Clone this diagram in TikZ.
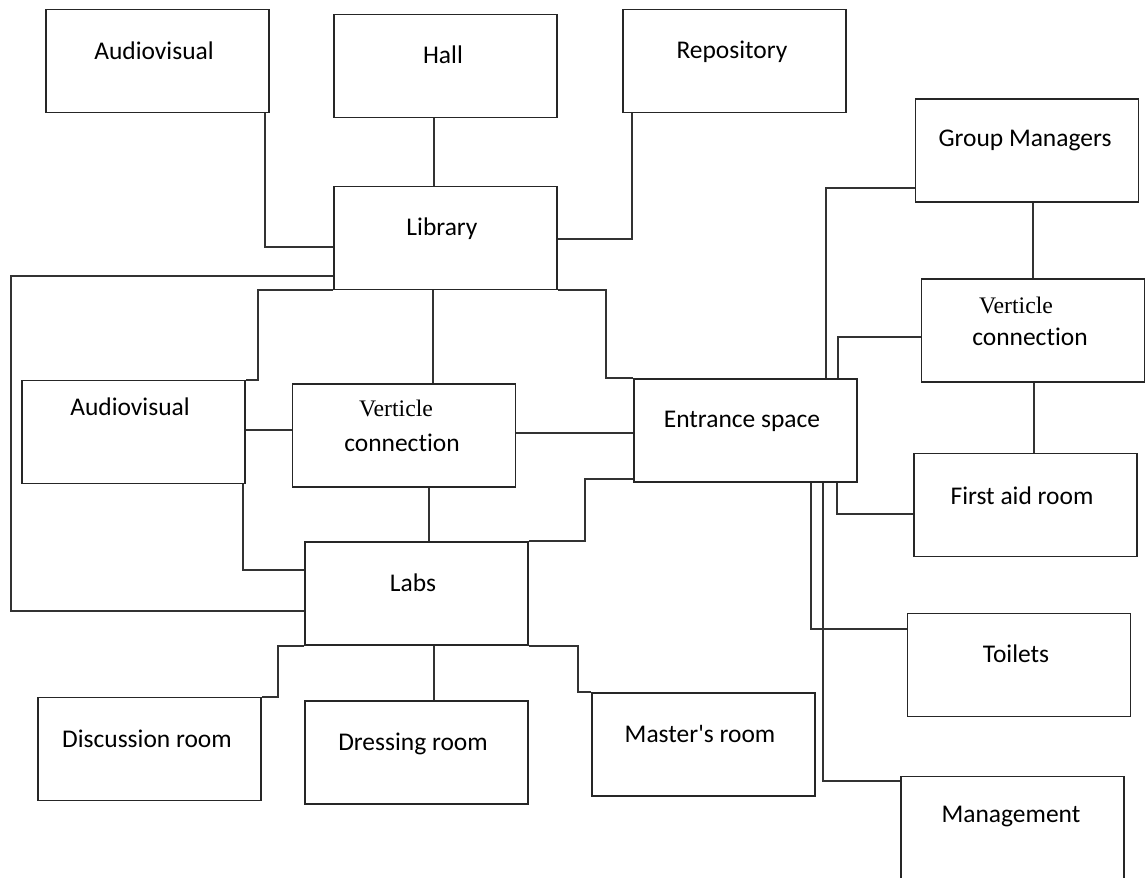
\documentclass[tikz,border=0pt]{standalone}
\usepackage{fontspec}
\setmainfont{Carlito}[Ligatures={NoCommon}]
\newfontfamily\serifword{Liberation Serif}

\begin{document}
\begin{tikzpicture}[x=0.02cm,y=-0.02cm,
  room/.style={draw=black!85,line width=0.9pt,fill=white,minimum width=4.46cm,minimum height=2.06cm,inner sep=0pt},
  roomtext/.style={inner sep=0pt,font=\fontsize{14.5}{17}\selectfont},
  serifword/.style={inner sep=0pt,font=\serifword\fontsize{13.5}{16}\selectfont},
  wire/.style={draw=black!80,line width=0.9pt}]
\useasboundingbox (0,0) rectangle (1147,877);
\clip (0,0) rectangle (1147,877);
% rooms
\node[room] (avtop) at (157.5,61) {};
\node[room] (hall) at (445.5,66) {};
\node[room] (repo) at (734.5,61) {};
\node[room] (gm) at (1027,150.5) {};
\node[room] (lib) at (445.5,238) {};
\node[room] (vcr) at (1033,330.5) {};
\node[room] (avl) at (133.5,432) {};
\node[room] (vcm) at (404,435.5) {};
\node[room] (ent) at (745.5,430.5) {};
\node[room] (aid) at (1025.5,505) {};
\node[room] (labs) at (416.5,593.5) {};
\node[room] (toil) at (1019,665) {};
\node[room] (disc) at (149.5,749) {};
\node[room] (dress) at (416.5,752.5) {};
\node[room] (mast) at (703.5,744.5) {};
\node[room] (mgmt) at (1012.5,828) {};
% names
\node[roomtext] (avtop-t) at (154,51) {Audiovisual};
\node[roomtext] (hall-t) at (443,55) {Hall};
\node[roomtext] (repo-t) at (732,52) {Repository};
\node[roomtext] (gm-t) at (1025,140) {Group Managers};
\node[roomtext] (lib-t) at (442,229) {Library};
\node[serifword] (vcr-t1) at (1016,305) {Verticle};
\node[roomtext] (vcr-t2) at (1030,337) {connection};
\node[roomtext] (avl-t) at (130,407) {Audiovisual};
\node[serifword] (vcm-t1) at (396,408) {Verticle};
\node[roomtext] (vcm-t2) at (402,443) {connection};
\node[roomtext] (ent-t) at (742,421) {Entrance space};
\node[roomtext] (aid-t) at (1022,496) {First aid room};
\node[roomtext] (labs-t) at (413,583) {Labs};
\node[roomtext] (toil-t) at (1016,654) {Toilets};
\node[roomtext] (disc-t) at (147,739) {Discussion room};
\node[roomtext] (dress-t) at (413,744) {Dressing room};
\node[roomtext] (mast-t) at (700,734) {Master\textquotesingle s room};
\node[roomtext] (mgmt-t) at (1011,817) {Management};
% links round the library
\draw[wire] (avtop.south -| 265,0) |- (lib.west |- 0,247);
\draw[wire] (hall.south -| 434,0) -- (lib.north -| 434,0);
\draw[wire] (repo.south -| 632,0) |- (lib.east |- 0,239);
\draw[wire] (lib.west |- 0,276) -| (11,611) -- (labs.west |- 0,611);
\draw[wire] (lib.south west) -| (258,0 |- avl.north) -- (avl.north east);
\draw[wire] (lib.south -| 433,0) -- (vcm.north -| 433,0);
\draw[wire] (lib.south east) -| (606,0 |- ent.north) -- (ent.north west);
% middle row
\draw[wire] (avl.east |- 0,430) -- (vcm.west |- 0,430);
\draw[wire] (avl.south -| 243,0) |- (labs.west |- 0,570);
\draw[wire] (vcm.east |- 0,433) -- (ent.west |- 0,433);
\draw[wire] (vcm.south -| 429,0) -- (labs.north -| 429,0);
\draw[wire] (ent.west |- 0,479) -| (585,0 |- labs.north) -- (labs.north east);
% under the labs
\draw[wire] (labs.south west) -| (278,0 |- disc.north) -- (disc.north east);
\draw[wire] (labs.south -| 434,0) -- (dress.north -| 434,0);
\draw[wire] (labs.south east) -| (578,0 |- mast.north) -- (mast.north west);
% right side
\draw[wire] (gm.west |- 0,188) -| (ent.north -| 826,0);
\draw[wire] (gm.south -| 1033,0) -- (vcr.north -| 1033,0);
\draw[wire] (vcr.west |- 0,337) -| (ent.north -| 838,0);
\draw[wire] (vcr.south -| 1034,0) -- (aid.north -| 1034,0);
\draw[wire] (ent.south -| 837,0) |- (aid.west |- 0,514);
\draw[wire] (ent.south -| 811,0) |- (toil.west |- 0,629);
\draw[wire] (ent.south -| 823,0) |- (mgmt.west |- 0,781);
\end{tikzpicture}
\end{document}
